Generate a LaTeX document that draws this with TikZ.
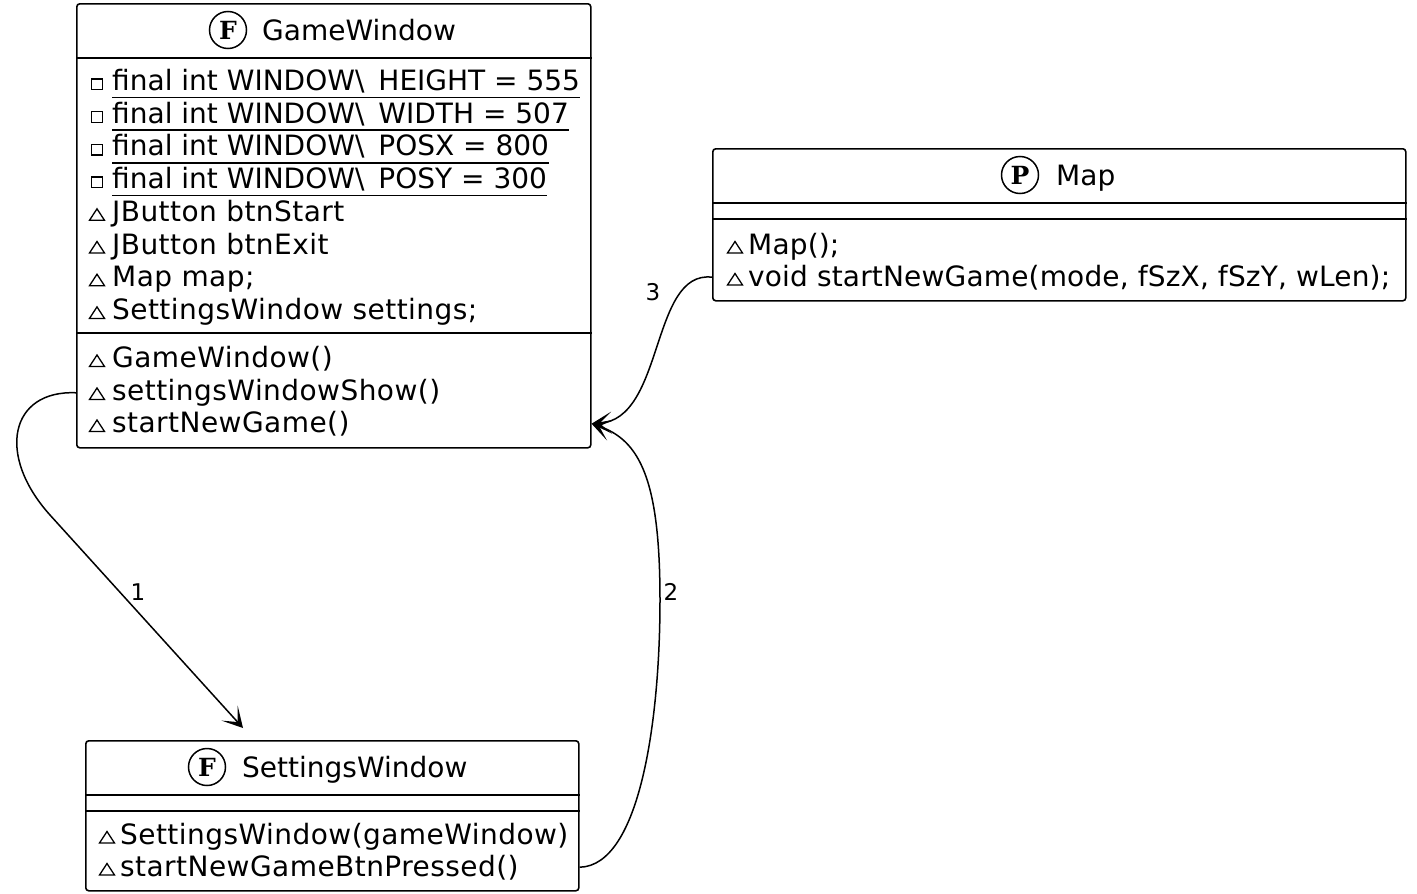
\documentclass[tikz,border=0pt]{standalone}
\usepackage{fontspec}
\setmainfont{DejaVu Sans}
\newfontfamily\iconfont{DejaVu Serif}
\newfontfamily\widefont[LetterSpace=1.6]{DejaVu Sans}
\newfontfamily\semiwidefont[LetterSpace=0.6]{DejaVu Sans}
\usetikzlibrary{arrows.meta}
\tikzset{
  txt/.style={inner sep=0pt, anchor=base west, font=\fontsize{28}{33}\selectfont},
  wtxt/.style={inner sep=0pt, anchor=base west, font=\widefont\fontsize{28}{33}\selectfont},
  swtxt/.style={inner sep=0pt, anchor=base west, font=\semiwidefont\fontsize{28}{33}\selectfont},
  lbl/.style={inner sep=0pt, font=\fontsize{23}{27}\selectfont},
  classbox/.style={draw, line width=1.6pt, rounded corners=3pt, anchor=north west, inner sep=0pt},
  sepline/.style={line width=1.6pt},
  uline/.style={line width=1.6pt},
  classicon/.style={circle, draw, line width=1.5pt, minimum size=37pt, inner sep=0pt, font=\iconfont\bfseries\fontsize{25}{25}\selectfont},
  conn/.style={line width=1.5pt, -{Stealth[length=20pt,width=22pt,inset=12pt]}},
  privicon/.pic={\draw[line width=1.3pt] (-5.5,-1) rectangle (5.5,-11.5);},
  pkgicon/.pic={\draw[line width=1.3pt, line join=miter] (-7.5,-1) -- (7.5,-1) -- (0,-12.5) -- cycle;}
}
\newcommand\usc{\phantom{\_}}
\begin{document}
\begin{tikzpicture}[x=1pt, y=-1pt]
\useasboundingbox (0,0) rectangle (1417,894);

% ---------- GameWindow ----------
\node[classbox, minimum width=514pt, minimum height=444pt] (gw) at (76,3) {};
\node[classicon] (gwi) at (228,30) {F};
\node[txt] (gwt) at (262,40) {GameWindow};
\draw[sepline] (gw.west |- 0,58) -- (gw.east |- 0,58);
\draw[sepline] (gw.west |- 0,333) -- (gw.east |- 0,333);

\node[txt] (gwa1) at (112,90.5) {final int WINDOW\textbackslash\usc HEIGHT = 555};
\node[txt] (gwa2) at (112,123.2) {final int WINDOW\textbackslash\usc WIDTH = 507};
\node[txt] (gwa3) at (112,155.9) {final int WINDOW\textbackslash\usc POSX = 800};
\node[txt] (gwa4) at (112,188.6) {final int WINDOW\textbackslash\usc POSY = 300};
\node[wtxt] (gwa5) at (112,221.3) {JButton btnStart};
\node[wtxt] (gwa6) at (112,254.0) {JButton btnExit};
\node[wtxt] (gwa7) at (112,286.7) {Map map;};
\node[wtxt] (gwa8) at (112,319.4) {SettingsWindow settings;};
\foreach \n in {gwa1,gwa2,gwa3,gwa4}{
  \draw[uline] ([yshift=-7pt]\n.base west) -- ([yshift=-7pt]\n.base east);
  \pic at ([xshift=-15pt]\n.base west) {privicon};
}
\foreach \n in {gwa5,gwa6,gwa7,gwa8}{
  \pic at ([xshift=-15pt]\n.base west) {pkgicon};
}
\node[wtxt] (gwm1) at (112,367.5) {GameWindow()};
\node[wtxt] (gwm2) at (112,400.5) {settingsWindowShow()};
\node[wtxt] (gwm3) at (112,432.5) {startNewGame()};
\foreach \n in {gwm1,gwm2,gwm3}{
  \pic at ([xshift=-15pt]\n.base west) {pkgicon};
}

% ---------- Map ----------
\node[classbox, minimum width=693pt, minimum height=152pt] (map) at (712,148) {};
\node[classicon] (mapi) at (1020,175) {P};
\node[txt] (mapt) at (1056,185) {Map};
\draw[sepline] (map.west |- 0,203) -- (map.east |- 0,203);
\draw[sepline] (map.west |- 0,219) -- (map.east |- 0,219);
\node[swtxt] (mapm1) at (748,254) {Map();};
\node[swtxt] (mapm2) at (748,286) {void startNewGame(mode, fSzX, fSzY, wLen);};
\foreach \n in {mapm1,mapm2}{
  \pic at ([xshift=-13pt]\n.base west) {pkgicon};
}

% ---------- SettingsWindow ----------
\node[classbox, minimum width=493pt, minimum height=150pt] (sw) at (85,740) {};
\node[classicon] (swi) at (207,767) {F};
\node[txt] (swt) at (242,777) {SettingsWindow};
\draw[sepline] (sw.west |- 0,795) -- (sw.east |- 0,795);
\draw[sepline] (sw.west |- 0,811) -- (sw.east |- 0,811);
\node[wtxt] (swm1) at (120,844) {SettingsWindow(gameWindow)};
\node[wtxt] (swm2) at (120,876) {startNewGameBtnPressed()};
\foreach \n in {swm1,swm2}{
  \pic at ([xshift=-13pt]\n.base west) {pkgicon};
}

% ---------- connectors ----------
\coordinate (swin) at (243,728);
\draw[conn] (gw.west |- gwm2) .. controls (10,390) and (-4,455) .. (50,515) -- (swin);
\draw[conn] (sw.east |- swm2) .. controls (640,866) and (660,720) .. (660,600)
            .. controls (660,480) and (640,440) .. (gw.east |- gwm3);
\draw[conn] (map.west |- mapm2) .. controls (650,270) and (665,420) .. (gw.east |- gwm3);

\node[lbl] (l1) at (138,592) {1};
\node[lbl] (l2) at (671,592) {2};
\node[lbl] (l3) at (653,292) {3};
\end{tikzpicture}
\end{document}
